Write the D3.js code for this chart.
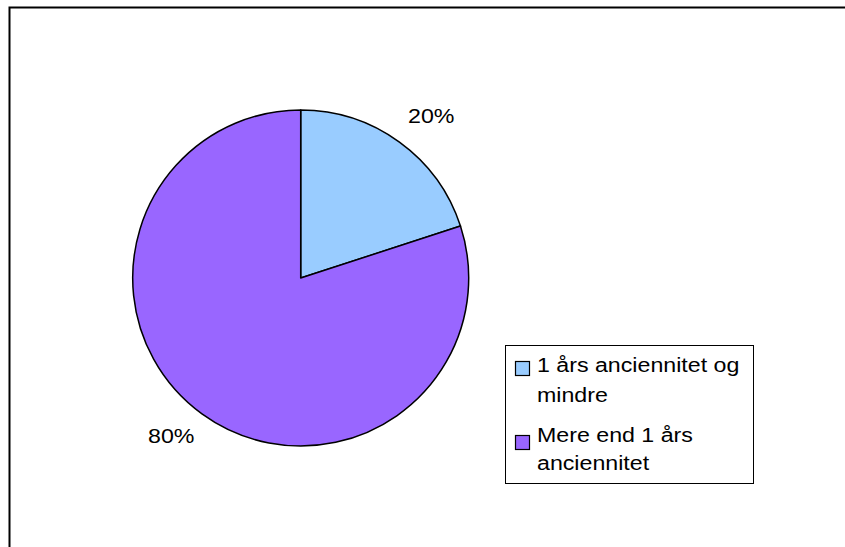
<!DOCTYPE html>
<html>
<head>
<meta charset="utf-8">
<script src="https://cdn.jsdelivr.net/npm/d3@7"></script>
<style>
  html, body { margin: 0; padding: 0; background: #fff; }
  svg { display: block; }
  text { font-family: "Liberation Sans", Arial, sans-serif; font-size: 20px; fill: #000; }
</style>
</head>
<body>
<svg id="chart" width="845" height="547"></svg>
<script>
const categories = ["1 års anciennitet og mindre", "Mere end 1 års anciennitet"];
const legendLines = [["1 års anciennitet og", "mindre"], ["Mere end 1 års", "anciennitet"]];
const values = [20, 80];
const labels = ["20%", "80%"];
const colors = ["#99CCFF", "#9966FF"];

const svg = d3.select("#chart");
const W = 845, H = 547;

// outer chart border (left + top visible)
svg.append("path")
  .attr("d", `M9.5,${H} V7.5 H${W}`)
  .attr("fill", "none")
  .attr("stroke", "#000")
  .attr("stroke-width", 2);

const cx = 300.7, cy = 278, r = 168;
const pie = d3.pie().sort(null).value(d => d);
const arcs = pie(values);
const arc = d3.arc().innerRadius(0).outerRadius(r);

const g = svg.append("g").attr("transform", `translate(${cx},${cy})`);
g.selectAll("path.slice")
  .data(arcs)
  .join("path")
  .attr("class", "slice")
  .attr("d", arc)
  .attr("fill", (d, i) => colors[i])
  .attr("stroke", "#000")
  .attr("stroke-width", 1.5)
  .attr("stroke-linejoin", "round");

// percentage labels placed outside, along slice mid-angle
const labelArc = d3.arc().innerRadius(r + 25).outerRadius(r + 25);
const sx = 1.16;
const labelPos = [[408, 123], [148, 443]];
arcs.forEach((d, i) => {
  svg.append("text")
    .attr("transform", `translate(${labelPos[i][0]},${labelPos[i][1]}) scale(${sx},1)`)
    .text(labels[i]);
});

// legend
const lx = 505.5, ly = 345.5, lw = 248, lh = 138;
svg.append("rect")
  .attr("x", lx).attr("y", ly).attr("width", lw).attr("height", lh)
  .attr("fill", "#fff").attr("stroke", "#000").attr("stroke-width", 1);

const itemY = [361, 435];
const lineBase = [[372, 402], [442, 470]];
categories.forEach((c, i) => {
  svg.append("rect")
    .attr("x", 515.5).attr("y", itemY[i] + 0.5)
    .attr("width", 14).attr("height", 14)
    .attr("fill", colors[i]).attr("stroke", "#000").attr("stroke-width", 1.2);
  legendLines[i].forEach((t, j) => {
    svg.append("text")
      .attr("transform", `translate(537,${lineBase[i][j]}) scale(${sx},1)`)
      .text(t);
  });
});
</script>
</body>
</html>
